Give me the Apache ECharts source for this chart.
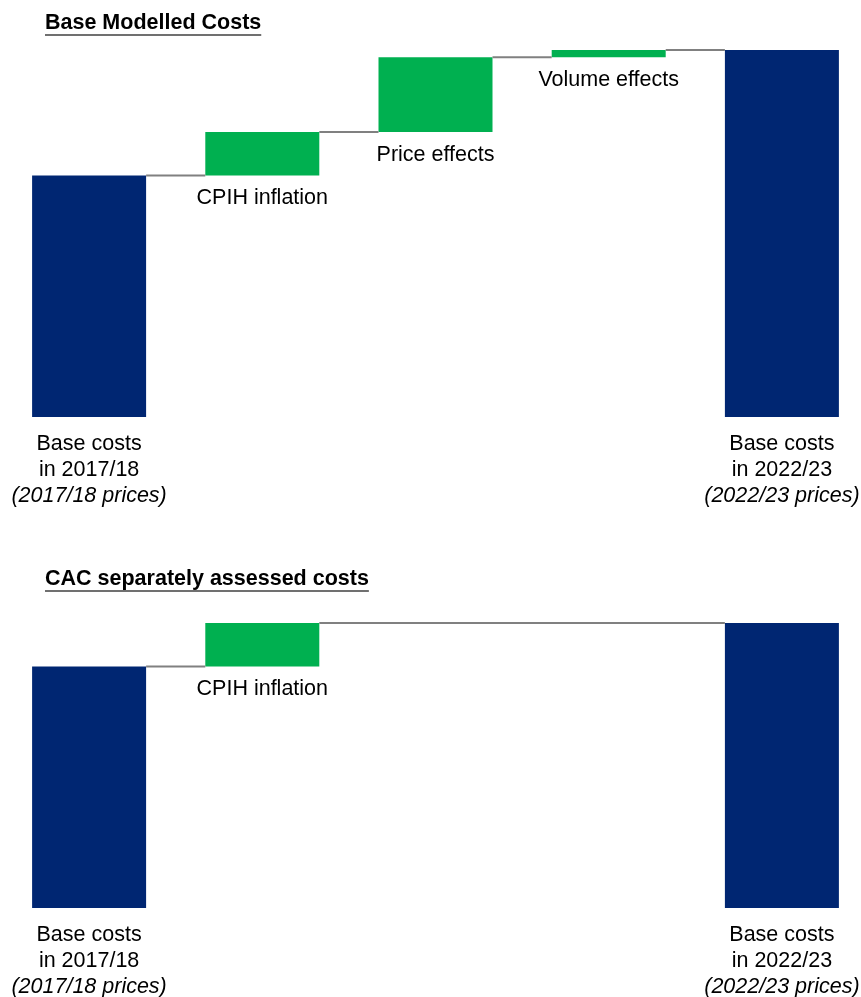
<!DOCTYPE html>
<html>
<head>
<meta charset="utf-8">
<script src="https://cdn.jsdelivr.net/npm/echarts@6/dist/echarts.min.js"></script>
<style>
  html, body { margin: 0; padding: 0; background: #fff; }
  #chart { width: 861px; height: 997px; }
</style>
</head>
<body>
<div id="chart"></div>
<script>
const FONT = "'Liberation Sans', Arial, sans-serif";
const FS = 21.5;
const NAVY = '#002672';
const GREEN = '#00B050';
const GREY = '#808080';
const BAR_W = 114;

// Base modelled costs, indexed to 2017/18 = 100
const topCategories = ['start', 'CPIH inflation', 'Price effects', 'Volume effects', 'end'];
const topValues = [100, 18, 31, 3, 152];
const topIsTotal = [true, false, false, false, true];

// CAC separately assessed costs, indexed to 2017/18 = 100
const bottomCategories = ['start', 'CPIH inflation', 'gap1', 'gap2', 'end'];
const bottomValues = [100, 18, null, null, 118];
const bottomIsTotal = [true, false, false, false, true];

const totalLabels = {
  start: ['Base costs', 'in 2017/18', '(2017/18 prices)'],
  end: ['Base costs', 'in 2022/23', '(2022/23 prices)']
};

const panelTitles = ['Base Modelled Costs', 'CAC separately assessed costs'];
const Y_MAX = 152;

// Turn a list of totals/steps into stacked-bar offsets, bars and connector links
function waterfall(values, isTotal) {
  const offsets = [], bars = [], links = [];
  let run = 0, last = null;
  values.forEach((v, i) => {
    if (v == null) { offsets.push(null); bars.push(null); return; }
    const total = isTotal[i];
    if (last !== null) links.push([last, i, run]);
    offsets.push(total ? 0 : run);
    bars.push({
      value: v,
      itemStyle: { color: total ? NAVY : GREEN },
      label: { show: !total }
    });
    run = total ? v : run + v;
    last = i;
  });
  return { offsets, bars, links };
}

const panels = [
  { cats: topCategories, wf: waterfall(topValues, topIsTotal) },
  { cats: bottomCategories, wf: waterfall(bottomValues, bottomIsTotal) }
];

// The plot band runs slightly past the right edge of the canvas
const grids = [
  { left: 2.5, width: 866, top: 50, height: 367, outerBoundsMode: 'none' },
  { left: 2.5, width: 866, top: 541, height: 367, outerBoundsMode: 'none' }
];

function axisLabelText(val) {
  const l = totalLabels[val];
  return l ? `{n|${l[0]}}\n{n|${l[1]}}\n{i|${l[2]}}` : '';
}

const xAxes = panels.map((p, k) => ({
  type: 'category',
  gridIndex: k,
  data: p.cats,
  axisLine: { show: false },
  axisTick: { show: false },
  axisLabel: {
    interval: 0,
    margin: 14,
    hideOverlap: false,
    formatter: axisLabelText,
    rich: {
      n: { fontFamily: FONT, fontSize: FS, lineHeight: 26, color: '#000' },
      i: { fontFamily: FONT, fontSize: FS, lineHeight: 26, color: '#000', fontStyle: 'italic' }
    }
  }
}));

const yAxes = panels.map((p, k) => ({
  type: 'value', gridIndex: k, min: 0, max: Y_MAX, show: false
}));

const series = [];
panels.forEach((p, k) => {
  series.push({
    type: 'bar', xAxisIndex: k, yAxisIndex: k, stack: 'wf' + k,
    barWidth: BAR_W, silent: true,
    itemStyle: { color: 'transparent' },
    data: p.wf.offsets
  });
  series.push({
    type: 'bar', xAxisIndex: k, yAxisIndex: k, stack: 'wf' + k,
    barWidth: BAR_W,
    label: {
      position: 'bottom', distance: 12,
      formatter: (params) => params.name,
      fontFamily: FONT, fontSize: FS, color: '#000'
    },
    data: p.wf.bars
  });
  series.push({
    type: 'custom', xAxisIndex: k, yAxisIndex: k,
    encode: { x: [0, 1], y: 2 },
    z: 3,
    renderItem: (params, api) => {
      const a = api.coord([api.value(0), api.value(2)]);
      const b = api.coord([api.value(1), api.value(2)]);
      return {
        type: 'line',
        shape: { x1: a[0] + BAR_W / 2, y1: a[1], x2: b[0] - BAR_W / 2, y2: b[1] },
        style: { stroke: GREY, lineWidth: 2 }
      };
    },
    data: p.wf.links
  });
});

// Underlined panel headings
const ctx = document.createElement('canvas').getContext('2d');
ctx.font = `bold ${FS}px ${FONT}`;
const headingY = [24, 580];
const graphic = [];
panelTitles.forEach((t, k) => {
  const w = ctx.measureText(t).width;
  graphic.push({
    type: 'text', left: 45, top: headingY[k] - 12,
    style: { text: t, font: `bold ${FS}px ${FONT}`, fill: '#000' }
  });
  graphic.push({
    type: 'line',
    shape: { x1: 45, y1: headingY[k] + 11, x2: 45 + w, y2: headingY[k] + 11 },
    style: { stroke: '#404040', lineWidth: 1.5 }
  });
});

const chart = echarts.init(document.getElementById('chart'), null, { renderer: 'canvas' });
chart.setOption({
  animation: false,
  backgroundColor: '#fff',
  grid: grids,
  xAxis: xAxes,
  yAxis: yAxes,
  series: series,
  graphic: graphic
});
</script>
</body>
</html>
